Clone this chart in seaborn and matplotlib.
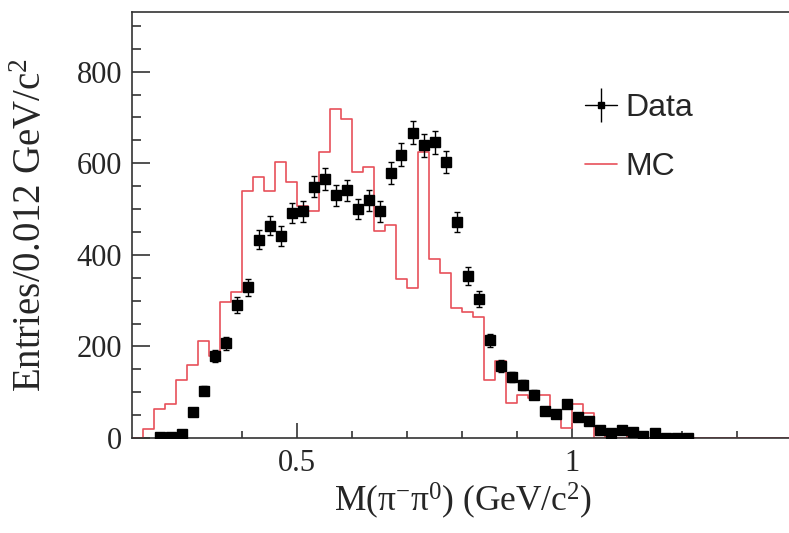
import numpy as np
import pandas as pd
import seaborn as sns
import matplotlib.pyplot as plt
from matplotlib.lines import Line2D
from matplotlib.legend_handler import HandlerTuple

# data points: bin centres (GeV/c^2) and entries
data_x = [0.25, 0.27, 0.29, 0.31, 0.33, 0.35, 0.37, 0.39, 0.41, 0.43,
          0.45, 0.47, 0.49, 0.51, 0.53, 0.55, 0.57, 0.59, 0.61, 0.63,
          0.65, 0.67, 0.69, 0.71, 0.73, 0.75, 0.77, 0.79, 0.81, 0.83,
          0.85, 0.87, 0.89, 0.91, 0.93, 0.95, 0.97, 0.99, 1.01, 1.03,
          1.05, 1.07, 1.09, 1.11, 1.13, 1.15, 1.17, 1.19, 1.21]
data_y = [2, 2, 9, 57, 103, 179, 207, 290, 329, 433,
          464, 441, 491, 495, 549, 566, 530, 541, 500, 519,
          495, 578, 619, 667, 639, 646, 603, 471, 354, 303,
          213, 157, 133, 115, 95, 60, 53, 75, 45, 37,
          17, 12, 17, 14, 5, 12, 1, 1, 1]

# MC histogram, 0.02 wide bins from 0.20 to 1.40
mc_edges = np.linspace(0.20, 1.40, 61)
mc_y = [0, 20, 64, 75, 126, 159, 212, 179, 297, 318,
        539, 571, 539, 603, 560, 507, 496, 624, 718, 697,
        582, 591, 453, 465, 348, 327, 625, 391, 360, 285,
        276, 264, 127, 168, 76, 95, 87, 95, 54, 21,
        74, 54, 0, 4, 0, 4, 0, 0, 0, 0,
        0, 0, 0, 0, 0, 0, 0, 0, 0, 0]

red = "#e8505a"
frame = "#333333"

sns.set_style("ticks")
plt.rcParams["font.family"] = ["Liberation Serif", "DejaVu Serif"]
plt.rcParams["mathtext.fontset"] = "custom"
plt.rcParams["mathtext.rm"] = "Liberation Serif"
plt.rcParams["mathtext.it"] = "Liberation Serif"

fig = plt.figure(figsize=(7.89, 5.33), dpi=100)
ax = fig.add_axes([132 / 789, 95 / 533, (789 - 132) / 789, (438 - 11.7) / 533])

mc = pd.DataFrame({"m": (mc_edges[:-1] + mc_edges[1:]) / 2, "n": mc_y})
sns.histplot(data=mc, x="m", weights="n", bins=list(mc_edges), element="step",
             fill=False, color=red, linewidth=1.2, ax=ax, zorder=2)

ax.errorbar(data_x, data_y, yerr=np.sqrt(data_y), fmt="s", color="black",
            ms=7, capsize=2, elinewidth=1, capthick=1, zorder=3)

ax.set_xlim(0.2, 0.2 + (789 - 132) / 550)
ax.set_ylim(0, 931)
ax.set_xticks([0.5, 1.0])
ax.set_xticklabels(["0.5", "1"])
ax.set_xticks(np.arange(0.3, 1.35, 0.1), minor=True)
ax.set_yticks([0, 200, 400, 600, 800])
ax.set_yticks(np.arange(0, 931, 50), minor=True)

ax.tick_params(axis="both", which="both", direction="in", color=frame,
               width=1.2, labelsize=22)
ax.tick_params(axis="y", which="major", length=13, pad=7)
ax.tick_params(axis="y", which="minor", length=6.5)
ax.tick_params(axis="x", which="major", length=11, pad=8)
ax.tick_params(axis="x", which="minor", length=5)

for side in ["left", "top", "bottom"]:
    ax.spines[side].set_color(frame)
    ax.spines[side].set_linewidth(1.2)
ax.spines["right"].set_visible(False)

ax.set_ylabel("Entries/0.012 GeV/c$^{2}$", fontsize=28)
ax.yaxis.set_label_coords(50 / 789, 1 - 225 / 533, transform=fig.transFigure)
ax.set_xlabel("M(π$^{-}$π$^{0}$) (GeV/c$^{2}$)", fontsize=25.5)
ax.xaxis.set_label_coords(463 / 789, 1 - 481 / 533, transform=fig.transFigure)

h_data = (Line2D([], [], color="black", lw=1, marker="s", ms=5),
          Line2D([], [], color="black", marker="|", ms=25, mew=1, ls="none"))
h_mc = Line2D([], [], color=red, lw=1.2)
ax.legend([h_data, h_mc], ["Data", "MC"],
          handler_map={tuple: HandlerTuple(ndivide=1)},
          prop={"family": "Liberation Sans", "size": 23},
          frameon=False, loc="upper left",
          bbox_to_anchor=(585 / 789, 1 - 93 / 533), bbox_transform=fig.transFigure,
          borderaxespad=0, borderpad=0, handlelength=1.0, handletextpad=0.25,
          labelspacing=0.92)

fig.savefig("out.png", dpi=100)
